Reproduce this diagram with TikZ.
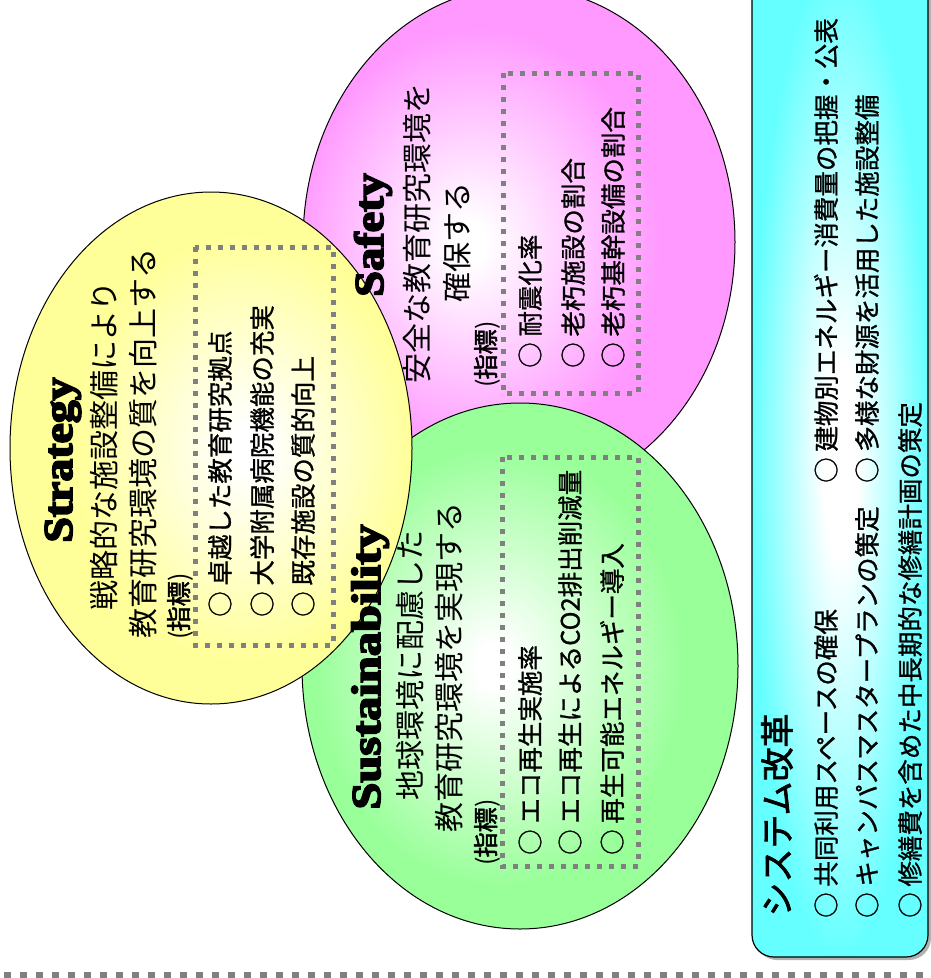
\documentclass[tikz,border=0pt]{standalone}
\usepackage{fontspec}
\newfontfamily\jp{Noto Sans CJK JP}
\newfontfamily\jpb{Noto Sans CJK JP}[FakeBold=1]
\newfontfamily\jpbb{Noto Sans CJK JP}[FakeBold=2]
\newfontfamily\titlefont{Liberation Serif}[BoldFeatures={FakeBold=4}]
\definecolor{yelc}{HTML}{FFFF99}
\definecolor{pinc}{HTML}{FF99FF}
\definecolor{grnc}{HTML}{99FF99}
\definecolor{cyac}{HTML}{66FFFF}
\definecolor{dotc}{HTML}{808080}
\pgfdeclareradialshading{yelsh}{\pgfpoint{5bp}{0bp}}{color(0bp)=(white); color(2bp)=(white); color(21bp)=(yelc); color(100bp)=(yelc)}
\pgfdeclareradialshading{pinsh}{\pgfpoint{-6bp}{0bp}}{color(0bp)=(white); color(2bp)=(white); color(21bp)=(pinc); color(100bp)=(pinc)}
\pgfdeclareradialshading{grnsh}{\pgfpoint{-3bp}{0bp}}{color(0bp)=(white); color(2bp)=(white); color(21bp)=(grnc); color(100bp)=(grnc)}
\pgfdeclareradialshading{cyash}{\pgfpoint{0bp}{0bp}}{color(0bp)=(white); color(5bp)=(white); color(25bp)=(cyac); color(100bp)=(cyac)}
\tikzset{
  ell/.style={draw=black, line width=1pt},
  dotbox/.style={draw=dotc, line width=5pt, dash pattern=on 5pt off 7pt},
  ttl/.style={rotate=90, inner sep=0pt, anchor=base, font=\titlefont\bfseries\fontsize{41}{41}\selectfont},
  jline/.style={rotate=90, inner sep=0pt, anchor=center, font=\jp\fontsize{30}{30}\selectfont},
  idx/.style={rotate=90, inner sep=0pt, anchor=west, font=\jp\fontsize{25}{25}\selectfont},
  itm/.style={rotate=90, inner sep=0pt, anchor=west, font=\jpb\fontsize{25.5}{25.5}\selectfont},
}
\newcommand{\idxtext}{(\jpbb 指標\jp)}
\begin{document}
\begin{tikzpicture}[x=1pt,y=-1pt]
\useasboundingbox (0,0) rectangle (931,978);
% ellipses
\path[ell, shading=pinsh] (519,242) ellipse [x radius=216, y radius=255];
\path[ell, shading=grnsh] (520,666) ellipse [x radius=218, y radius=263];
\path[ell, shading=yelsh] (211,448) ellipse [x radius=201, y radius=256];
% dotted boxes
\draw[dotbox] (195,247) rectangle (333,645);
\draw[dotbox] (503,73) rectangle (638,393);
\draw[dotbox] (502,457) rectangle (638,866);
% system box
\fill[gray!60, rounded corners=22pt] (755,-40) rectangle (931,960);
\path[draw=black, line width=1.2pt, rounded corners=22pt, shading=cyash] (752,-40) rectangle (928,957);
% bottom dashed line
\coordinate (dl) at (4,975);
\coordinate (dr) at (931,975);
\draw[dotc, line width=6pt, dash pattern=on 7pt off 9pt] (dl) -- (dr);
% Strategy
\node[ttl] (sttl) at (72,460) {\scalebox{1.115}[1]{Strategy}};
\node[jline] (sl1) at (104,446) {戦略的な施設整備により};
\node[jline] (sl2) at (143,443) {教育研究環境の質を向上する};
\node[idx] (sidx) at (180,640) {\idxtext};
\node[itm] (si1) at (220,617) {○ 卓越した教育研究拠点};
\node[itm] (si2) at (262,617) {○ 大学附属病院機能の充実};
\node[itm] (si3) at (303,617) {○ 既存施設の質的向上};
% Safety
\node[ttl] (fttl) at (383,235) {\scalebox{1.13}[1]{Safety}};
\node[jline] (fl1) at (417,233) {安全な教育研究環境を};
\node[jline] (fl2) at (457,242) {確保する};
\node[idx] (fidx) at (487,388) {\idxtext};
\node[itm] (fi1) at (530,368) {○ 耐震化率};
\node[itm] (fi2) at (573,368) {○ 老朽施設の割合};
\node[itm] (fi3) at (613,368) {○ 老朽基幹設備の割合};
% Sustainability
\node[ttl] (gttl) at (380,667) {\scalebox{1.18}[1]{Sustainability}};
\node[jline] (gl1) at (410,665) {地球環境に配慮した};
\node[jline] (gl2) at (449,667) {教育研究環境を実現する};
\node[idx] (gidx) at (487,866) {\idxtext};
\node[itm] (gi1) at (530,855) {○ エコ再生実施率};
\node[itm] (gi2) at (570,855) {○ エコ再生によるCO2排出削減量};
\node[itm] (gi3) at (612,855) {○ 再生可能エネルギー導入};
% System reform
\node[rotate=90, inner sep=0pt, anchor=center, font=\jpbb\fontsize{34}{34}\selectfont] (cttl) at (777,815) {システム改革};
\node[itm] (ci1) at (826,918) {○ 共同利用スペースの確保};
\node[itm] (ci2) at (826,483) {○ 建物別エネルギー消費量の把握・公表};
\node[itm] (ci3) at (867,918) {○ キャンパスマスタープランの策定};
\node[itm] (ci4) at (867,483) {○ 多様な財源を活用した施設整備};
\node[itm] (ci5) at (910,918) {○ 修繕費を含めた中長期的な修繕計画の策定};
\end{tikzpicture}
\end{document}
